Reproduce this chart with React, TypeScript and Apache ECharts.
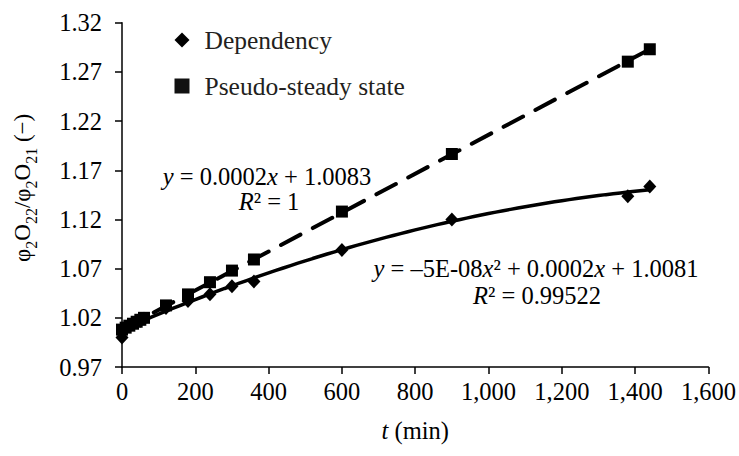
import React, { useEffect, useRef } from 'react';
import * as echarts from 'echarts';

const depT = [0, 10, 20, 30, 40, 50, 60, 120, 180, 240, 300, 360, 600, 900, 1380, 1440];
const depV = [1.0, 1.01, 1.012, 1.014, 1.016, 1.017, 1.019, 1.03, 1.037, 1.044, 1.052, 1.057, 1.089, 1.12, 1.1435, 1.1536];
const pssT = [0, 10, 20, 30, 40, 50, 60, 120, 180, 240, 300, 360, 600, 900, 1380, 1440];
const pssV = [1.008, 1.01, 1.012, 1.014, 1.016, 1.018, 1.02, 1.0326, 1.0438, 1.0562, 1.068, 1.0793, 1.128, 1.1865, 1.2804, 1.293];

const xTicks = { min: 0, max: 1600, interval: 200 };
const yTicks = { min: 0.97, max: 1.32, interval: 0.05 };

const eqLinear = ['{i|y} = 0.0002{i|x} + 1.0083', '{i|R}² = 1'];
const eqPoly = ['{i|y} = –5E-08{i|x}² + 0.0002{i|x} + 1.0081', '{i|R}² = 0.99522'];

function solve3(A: number[][], b: number[]): number[] {
  const m = A.map((r, i) => [...r, b[i]]);
  for (let c = 0; c < 3; c++) {
    let p = c;
    for (let r = c + 1; r < 3; r++) if (Math.abs(m[r][c]) > Math.abs(m[p][c])) p = r;
    [m[c], m[p]] = [m[p], m[c]];
    for (let r = 0; r < 3; r++) {
      if (r === c) continue;
      const f = m[r][c] / m[c][c];
      for (let k = c; k < 4; k++) m[r][k] -= f * m[c][k];
    }
  }
  return [m[0][3] / m[0][0], m[1][3] / m[1][1], m[2][3] / m[2][2]];
}

function fitQuad(xs: number[], ys: number[]) {
  const s = (p: number) => xs.reduce((a, x) => a + Math.pow(x, p), 0);
  const t = (p: number) => xs.reduce((a, x, i) => a + Math.pow(x, p) * ys[i], 0);
  const A = [
    [s(0), s(1), s(2)],
    [s(1), s(2), s(3)],
    [s(2), s(3), s(4)],
  ];
  const [c, b, a] = solve3(A, [t(0), t(1), t(2)]);
  return (x: number) => a * x * x + b * x + c;
}

function fitLin(xs: number[], ys: number[]) {
  const n = xs.length;
  const mx = xs.reduce((a, v) => a + v, 0) / n;
  const my = ys.reduce((a, v) => a + v, 0) / n;
  let num = 0, den = 0;
  xs.forEach((x, i) => { num += (x - mx) * (ys[i] - my); den += (x - mx) * (x - mx); });
  const b = num / den;
  return (x: number) => my + b * (x - mx);
}

export default function App() {
  const ref = useRef<HTMLDivElement>(null);
  useEffect(() => {
    if (!ref.current) return;
    const chart = echarts.init(ref.current, null, { renderer: 'svg' });
    const fq = fitQuad(depT, depV);
    const fl = fitLin(pssT, pssV);
    const tMax = Math.max(...depT);
    const quadLine: number[][] = [];
    for (let t = 0; t <= tMax; t += 20) quadLine.push([t, fq(t)]);
    const linLine = [[0, fl(0)], [tMax, fl(tMax)]];
    const font = 'Liberation Serif';
    const fs = 24.5;
    const axisLineStyle = { color: '#000', width: 1.5 };
    const r = { fontFamily: font, fontSize: fs, color: '#000' };
    const rn = { fontFamily: font, fontSize: 23, color: '#000' };
    const eqStyle = (text: string) => ({
      text, align: 'center', verticalAlign: 'middle', fontFamily: font, fontSize: fs, fill: '#000',
      rich: { i: { fontStyle: 'italic', fontFamily: font, fontSize: fs, fill: '#000' } },
    });
    chart.setOption({
      animation: false,
      backgroundColor: '#fff',
      textStyle: { fontFamily: font },
      grid: { left: 122, right: 29, top: 22.7, bottom: 89, containLabel: false },
      legend: {
        orient: 'vertical',
        left: 174.5,
        top: 27,
        padding: 0,
        itemWidth: 15,
        itemHeight: 15,
        itemGap: 20,
        selectedMode: false,
        textStyle: { fontFamily: font, fontSize: 25.5, lineHeight: 26, color: '#231f20', padding: [0, 0, 0, 10] },
        data: [
          { name: 'Dependency', icon: 'diamond', itemStyle: { color: '#000', opacity: 1 } },
          { name: 'Pseudo-steady state', icon: 'rect', itemStyle: { color: '#111', opacity: 1 } },
        ],
      },
      xAxis: {
        type: 'value',
        ...xTicks,
        name: '{i|t} (min)',
        nameLocation: 'middle',
        nameGap: 51,
        nameTextStyle: { ...r, rich: { i: { ...r, fontStyle: 'italic' } } },
        axisLine: { lineStyle: axisLineStyle },
        axisTick: { show: true, length: 7, lineStyle: axisLineStyle },
        splitLine: { show: false },
        axisLabel: {
          ...r, margin: 12,
          formatter: (v: number) => v.toLocaleString('en-US'),
        },
      },
      yAxis: {
        type: 'value',
        ...yTicks,
        name: 'φ{s|2}O{s|22}/φ{s|2}O{s|21} (−)',
        nameLocation: 'middle',
        nameRotate: 90,
        nameGap: 100,
        nameTextStyle: {
          ...rn, lineHeight: 26, verticalAlign: 'middle', padding: [0, 0, 0, 14],
          rich: {
            s: { fontFamily: font, fontSize: 16, color: '#000', lineHeight: 26, verticalAlign: 'bottom', padding: [0, 0, -4, 0] },
          },
        },
        axisLine: { show: true, lineStyle: axisLineStyle },
        axisTick: { show: true, length: 7, lineStyle: axisLineStyle },
        splitLine: { show: false },
        axisLabel: {
          ...r, margin: 20,
          formatter: (v: number) => v.toFixed(2),
        },
      },
      series: [
        {
          name: 'Dependency', type: 'scatter', symbol: 'diamond', symbolSize: [13, 14],
          itemStyle: { color: '#000', opacity: 1 }, data: depT.map((t, i) => [t, depV[i]]), z: 3,
        },
        {
          name: 'Pseudo-steady state', type: 'scatter', symbol: 'rect', symbolSize: 12,
          itemStyle: { color: '#000', opacity: 1 }, data: pssT.map((t, i) => [t, pssV[i]]), z: 3,
        },
        {
          name: 'dep-trend', type: 'line', showSymbol: false, symbol: 'none', silent: true,
          lineStyle: { color: '#000', width: 3.5 }, data: quadLine, z: 4,
        },
        {
          name: 'pss-trend', type: 'line', showSymbol: false, symbol: 'none', silent: true,
          lineStyle: { color: '#000', width: 4, type: [22, 14], cap: 'round' }, data: linLine, z: 4,
        },
      ],
      graphic: [
        { type: 'text', x: 267, y: 176, style: eqStyle(eqLinear[0]) },
        { type: 'text', x: 269, y: 201, style: eqStyle(eqLinear[1]) },
        { type: 'text', x: 536, y: 268, style: eqStyle(eqPoly[0]) },
        { type: 'text', x: 537, y: 295, style: eqStyle(eqPoly[1]) },
      ],
    });
    return () => chart.dispose();
  }, []);
  return <div ref={ref} style={{ position: 'fixed', left: 0, top: 0, width: 739, height: 456 }} />;
}
